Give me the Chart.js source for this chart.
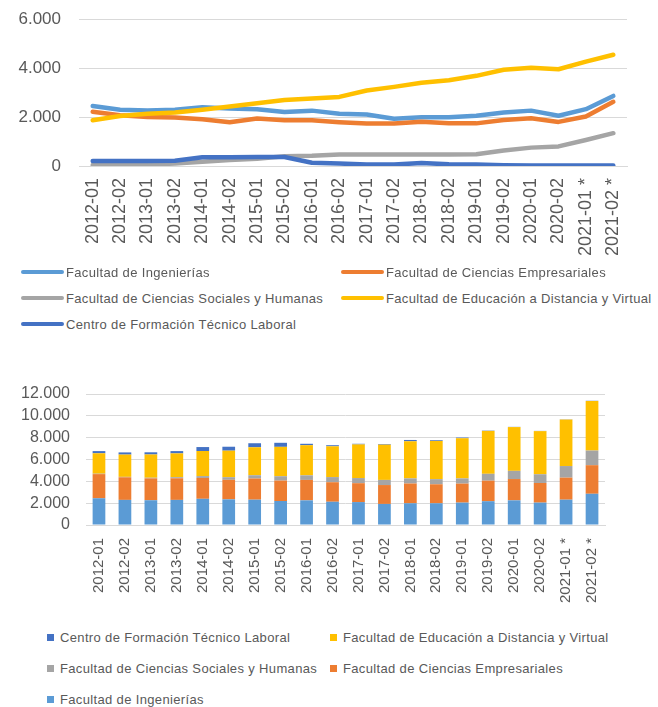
<!DOCTYPE html>
<html>
<head>
<meta charset="utf-8">
<script src="https://cdn.jsdelivr.net/npm/chart.js@4.4.0/dist/chart.umd.min.js"></script>
<style>
  body { margin: 0; background: #fff; font-family: 'Liberation Sans', Arial, sans-serif; }
  #wrap { position: relative; width: 658px; height: 707px; overflow: hidden; }
  canvas { position: absolute; left: 0; }
  .legend { position: absolute; left: 0; top: 0; width: 658px; color: #595959; font-size: 13px; letter-spacing: 0.35px; }
  .item { position: absolute; display: flex; align-items: center; white-space: nowrap; height: 16px; }
  .line-sw { width: 43px; height: 4px; border-radius: 2px; margin-right: 2px; }
  .box-sw { width: 7px; height: 7px; margin-right: 6px; }
</style>
</head>
<body>
<div id="wrap">
  <canvas id="lineChart" width="658" height="265" style="top:0"></canvas>
  <div id="lineLegend" class="legend"></div>
  <canvas id="barChart" width="658" height="235" style="top:380px"></canvas>
  <div id="barLegend" class="legend"></div>
</div>
<script>
const periods = ['2012-01', '2012-02', '2013-01', '2013-02', '2014-01', '2014-02', '2015-01', '2015-02', '2016-01', '2016-02',
  '2017-01', '2017-02', '2018-01', '2018-02', '2019-01', '2019-02', '2020-01', '2020-02', '2021-01 *', '2021-02 *'];

const ingenierias = [2450, 2300, 2270, 2300, 2400, 2350, 2320, 2200, 2260, 2130, 2100, 1930, 1990, 1990, 2050, 2180, 2260, 2050, 2320, 2860];
const empresariales = [2210, 2070, 2000, 1980, 1910, 1790, 1940, 1870, 1870, 1790, 1730, 1730, 1810, 1740, 1740, 1880, 1950, 1800, 2020, 2620];
const sociales = [40, 40, 60, 100, 170, 240, 300, 400, 420, 470, 470, 470, 470, 470, 480, 630, 750, 800, 1060, 1340];
const distancia = [1870, 2040, 2130, 2180, 2300, 2430, 2560, 2690, 2760, 2820, 3080, 3230, 3400, 3500, 3680, 3930, 4010, 3950, 4260, 4540];
const tecnico = [200, 200, 200, 210, 360, 360, 370, 370, 130, 100, 60, 60, 120, 70, 60, 30, 20, 20, 20, 20];

const seriesNames = ['Facultad de Ingenierías', 'Facultad de Ciencias Empresariales', 'Facultad de Ciencias Sociales y Humanas',
  'Facultad de Educación a Distancia y Virtual', 'Centro de Formación Técnico Laboral'];
const seriesColors = ['#5B9BD5', '#ED7D31', '#A5A5A5', '#FFC000', '#4472C4'];
const lineTicks = [0, 2000, 4000, 6000];
const barTicks = [0, 2000, 4000, 6000, 8000, 10000, 12000];

const seriesData = [ingenierias, empresariales, sociales, distancia, tecnico];
const textColor = '#595959';
const gridColor = '#D9D9D9';

function fmt(v) {
  return String(v).replace(/\B(?=(\d{3})+(?!\d))/g, '.');
}

function yAxis(ticks, width, pad, size) {
  return {
    min: ticks[0], max: ticks[ticks.length - 1],
    afterBuildTicks: function(s) { s.ticks = ticks.map(function(v) { return { value: v }; }); },
    // fixed width; drop the tick padding chart.js adds above/below the axis
    afterFit: function(s) { s.width = width; s.paddingTop = 6; s.paddingBottom = 6; },
    border: { display: false },
    grid: { color: gridColor, lineWidth: 1, drawTicks: false },
    ticks: { color: textColor, padding: pad, font: { size: size }, callback: fmt, autoSkip: false }
  };
}

function xAxis(height, pad, size, stacked) {
  return {
    offset: true,
    stacked: stacked,
    afterFit: function(s) { s.height = height; },
    border: { color: gridColor },
    grid: { display: false, drawTicks: false },
    ticks: { color: textColor, padding: pad, font: { size: size }, minRotation: 90, maxRotation: 90, autoSkip: false }
  };
}

Chart.defaults.font.family = "'Liberation Sans', Arial, sans-serif";
Chart.defaults.animation = false;

const lineChart = new Chart(document.getElementById('lineChart'), {
  type: 'line',
  data: {
    labels: periods,
    datasets: seriesData.map(function(d, i) {
      return {
        label: seriesNames[i], data: d, borderColor: seriesColors[i], backgroundColor: seriesColors[i],
        borderWidth: 4.5, pointRadius: 0, tension: 0, order: 4 - i, borderCapStyle: 'round', borderJoinStyle: 'round'
      };
    })
  },
  options: {
    responsive: false,
    devicePixelRatio: 1,
    layout: { padding: { left: 0, right: 31, top: 19, bottom: 0 } },
    plugins: { legend: { display: false }, tooltip: { enabled: false } },
    scales: { x: xAxis(99, 12, 18, false), y: yAxis(lineTicks, 79, 18, 17) }
  }
});

const barChart = new Chart(document.getElementById('barChart'), {
  type: 'bar',
  data: {
    labels: periods,
    datasets: seriesData.map(function(d, i) {
      return { label: seriesNames[i], data: d, backgroundColor: seriesColors[i], barPercentage: 0.49, categoryPercentage: 1 };
    })
  },
  options: {
    responsive: false,
    devicePixelRatio: 1,
    layout: { padding: { left: 0, right: 53, top: 14, bottom: 0 } },
    plugins: { legend: { display: false }, tooltip: { enabled: false } },
    scales: { x: xAxis(90, 13, 15, true), y: Object.assign(yAxis(barTicks, 86, 16, 16), { stacked: true }) }
  }
});

function buildLegend(el, chart, order, cols, rows, swClass) {
  const items = chart.data.datasets;
  order.forEach(function(idx, k) {
    const ds = items[idx];
    const div = document.createElement('div');
    div.className = 'item';
    div.style.left = cols[k % 2] + 'px';
    div.style.top = (rows[Math.floor(k / 2)] - 8) + 'px';
    const sw = document.createElement('span');
    sw.className = swClass;
    sw.style.background = ds.backgroundColor;
    const tx = document.createElement('span');
    tx.textContent = ds.label;
    div.appendChild(sw);
    div.appendChild(tx);
    el.appendChild(div);
  });
}

buildLegend(document.getElementById('lineLegend'), lineChart, [0, 1, 2, 3, 4], [21, 341], [272, 298, 324], 'line-sw');
buildLegend(document.getElementById('barLegend'), barChart, [4, 3, 2, 1, 0], [47, 330], [637, 668, 699], 'box-sw');
</script>
</body>
</html>
